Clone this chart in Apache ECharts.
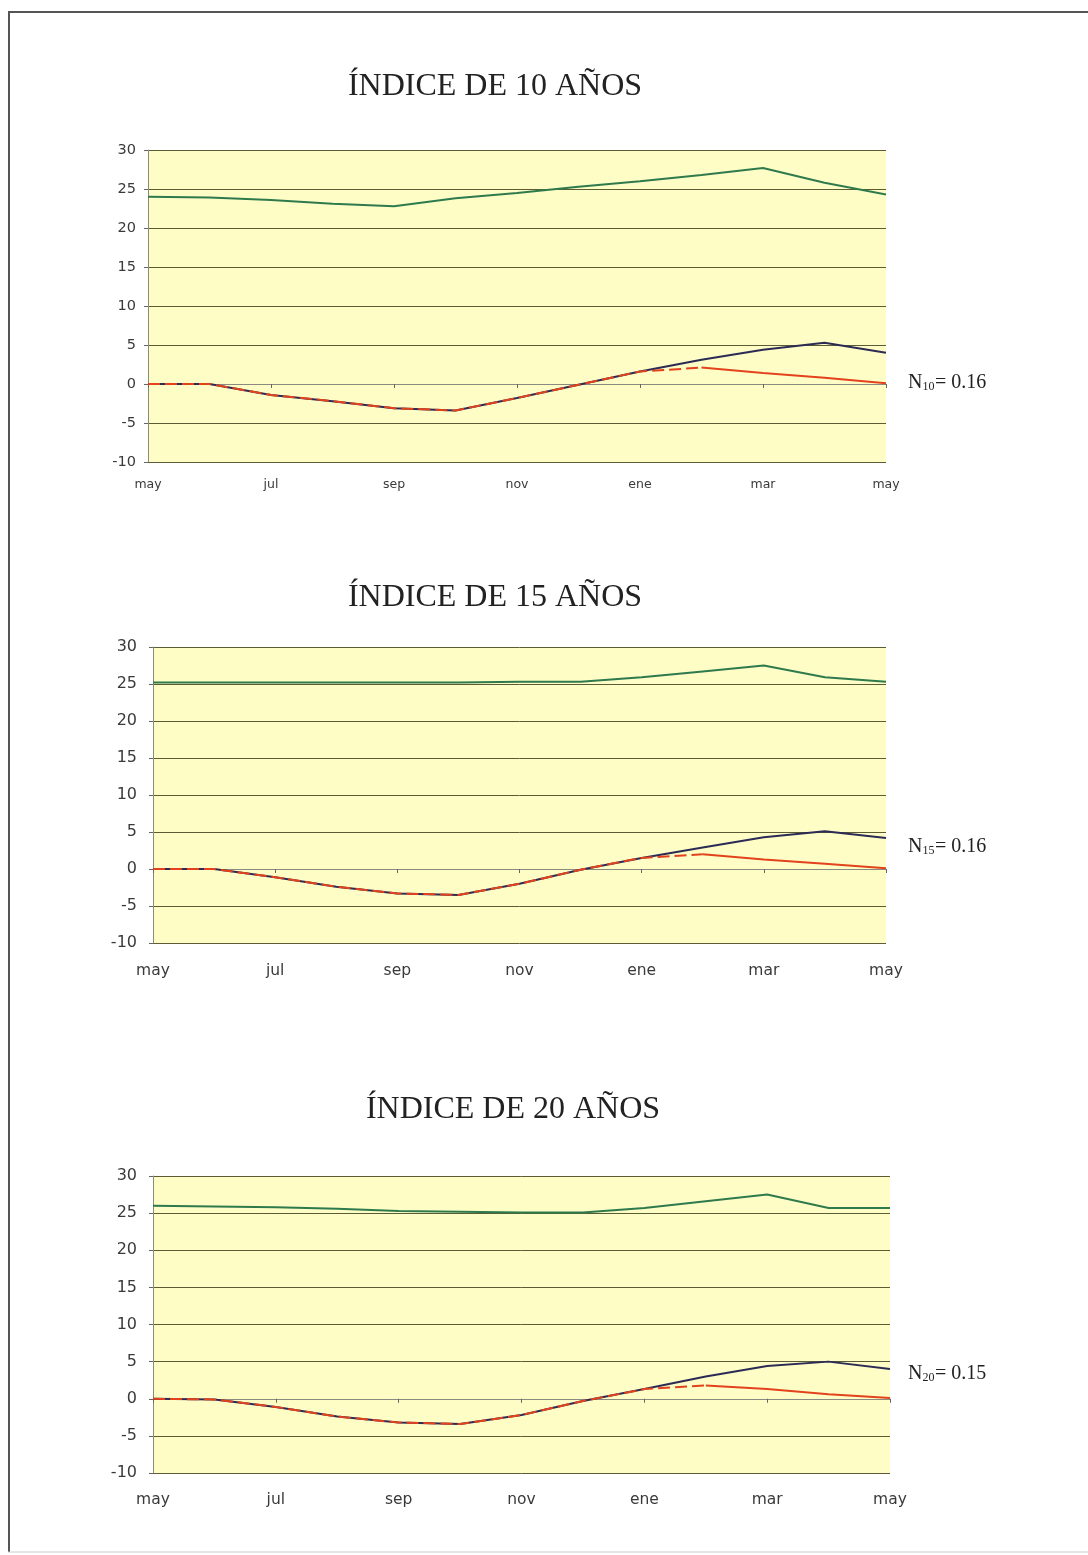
<!DOCTYPE html>
<html>
<head>
<meta charset="utf-8">
<style>
  html, body { margin: 0; padding: 0; background: #ffffff; }
  #chart { width: 1088px; height: 1555px; }
</style>
<script src="https://cdn.jsdelivr.net/npm/echarts@6/dist/echarts.min.js"></script>
</head>
<body>
<div id="chart"></div>
<script>
// Meses del ciclo anual (mayo a mayo)
const meses = ['may', 'jun', 'jul', 'ago', 'sep', 'oct', 'nov', 'dic', 'ene', 'feb', 'mar', 'abr', 'may'];

// Índice de 10 años
const verde10 = [24.0, 23.9, 23.6, 23.1, 22.8, 23.8, 24.5, 25.3, 26.0, 26.8, 27.7, 25.8, 24.3];
const azul10  = [0.0, 0.0, -1.4, -2.2, -3.1, -3.4, -1.8, -0.1, 1.6, 3.1, 4.4, 5.3, 4.0];
const rojo10  = [0.0, 0.0, -1.4, -2.2, -3.1, -3.4, -1.8, -0.1, 1.6, 2.1, 1.4, 0.8, 0.1];

// Índice de 15 años
const verde15 = [25.2, 25.2, 25.2, 25.2, 25.2, 25.2, 25.3, 25.3, 25.9, 26.7, 27.5, 25.9, 25.3];
const azul15  = [0.0, 0.0, -1.1, -2.4, -3.3, -3.5, -2.0, -0.1, 1.5, 2.9, 4.3, 5.1, 4.2];
const rojo15  = [0.0, 0.0, -1.1, -2.4, -3.3, -3.5, -2.0, -0.1, 1.5, 2.0, 1.3, 0.7, 0.1];

// Índice de 20 años
const verde20 = [26.0, 25.9, 25.8, 25.6, 25.3, 25.2, 25.1, 25.1, 25.7, 26.6, 27.5, 25.7, 25.7];
const azul20  = [0.0, -0.1, -1.1, -2.4, -3.2, -3.4, -2.2, -0.3, 1.3, 3.0, 4.4, 5.0, 4.0];
const rojo20  = [0.0, -0.1, -1.1, -2.4, -3.2, -3.4, -2.2, -0.3, 1.3, 1.8, 1.3, 0.6, 0.1];

const titulos = ['ÍNDICE DE 10 AÑOS', 'ÍNDICE DE 15 AÑOS', 'ÍNDICE DE 20 AÑOS'];
const subindices = ['10', '15', '20'];
const valoresN = ['0.16', '0.16', '0.15'];

const paneles = [
  { verde: verde10, azul: azul10, rojo: rojo10 },
  { verde: verde15, azul: azul15, rojo: rojo15 },
  { verde: verde20, azul: azul20, rojo: rojo20 }
];

// Disposición de cada panel
const marcos = [
  { left: 148, right: 202, top: 150, height: 312, fy: 14.5, my: 12, fx: 12.5, mx: 16, titleY: 87, titleX: 495, nY: 383 },
  { left: 153, right: 202, top: 647, height: 296, fy: 16, my: 16, fx: 15.5, mx: 20, titleY: 598, titleX: 495, nY: 847 },
  { left: 153, right: 198, top: 1176, height: 297, fy: 16, my: 16, fx: 15.5, mx: 19, titleY: 1110, titleX: 513, nY: 1374 }
];

const AMARILLO = '#FEFDC6';
const REJILLA = '#4a4a24';
const EJE = '#8a8a80';
const VERDE = '#2f7a4c';
const AZUL = '#2b2b55';
const ROJO = '#e2421c';
const SANS = 'DejaVu Sans, Verdana, sans-serif';
const SERIF = 'Liberation Serif, Times New Roman, serif';

const grid = [], xAxis = [], yAxis = [], series = [], graphic = [];

marcos.forEach((m, i) => {
  grid.push({
    left: m.left, right: m.right, top: m.top, height: m.height,
    show: true, backgroundColor: AMARILLO, borderWidth: 0
  });
  xAxis.push({
    type: 'category', gridIndex: i, data: meses, boundaryGap: false,
    axisLine: { show: true, lineStyle: { color: EJE, width: 1 } },
    axisTick: { show: true, interval: 1, length: 4, lineStyle: { color: '#666' } },
    axisLabel: {
      interval: 1, color: '#3a3a3a', fontFamily: SANS, fontSize: m.fx, margin: m.mx
    },
    splitLine: { show: false }
  });
  yAxis.push({
    type: 'value', gridIndex: i, min: -10, max: 30, interval: 5,
    axisLine: { show: true, lineStyle: { color: EJE, width: 1 } },
    axisTick: { show: true, length: 4, lineStyle: { color: '#666' } },
    axisLabel: { color: '#3a3a3a', fontFamily: SANS, fontSize: m.fy, margin: m.my },
    splitLine: { show: true, lineStyle: { color: REJILLA, width: 1, opacity: 0.9 } }
  });

  const p = paneles[i];
  const base = { type: 'line', xAxisIndex: i, yAxisIndex: i, symbol: 'none', silent: true, animation: false };
  series.push(Object.assign({}, base, {
    name: 'verde' + i, data: p.verde, lineStyle: { color: VERDE, width: 2 }
  }));
  series.push(Object.assign({}, base, {
    name: 'azul' + i, data: p.azul, lineStyle: { color: AZUL, width: 2 }
  }));
  // Tramo discontinuo (may–feb) y tramo continuo (feb–may) de la serie roja
  series.push(Object.assign({}, base, {
    name: 'rojoA' + i, data: p.rojo.map((v, k) => (k <= 9 ? v : null)),
    lineStyle: { color: ROJO, width: 2, type: [12, 5] }
  }));
  series.push(Object.assign({}, base, {
    name: 'rojoB' + i, data: p.rojo.map((v, k) => (k >= 9 ? v : null)),
    lineStyle: { color: ROJO, width: 2 }
  }));

  // Título del panel
  graphic.push({
    type: 'text', x: m.titleX, y: m.titleY, silent: true,
    style: {
      text: titulos[i], font: '32px ' + SERIF, fill: '#222',
      textAlign: 'center', textVerticalAlign: 'middle'
    }
  });

  // Anotación N con subíndice
  graphic.push({
    type: 'group', x: 908, y: m.nY, silent: true,
    children: [
      { type: 'text', x: 0, y: 0, style: { text: 'N', font: '20px ' + SERIF, fill: '#222', textVerticalAlign: 'middle' } },
      { type: 'text', x: 14.5, y: 4, style: { text: subindices[i], font: '12px ' + SERIF, fill: '#222', textVerticalAlign: 'middle' } },
      { type: 'text', x: 27, y: 0, style: { text: '= ' + valoresN[i], font: '20px ' + SERIF, fill: '#222', textVerticalAlign: 'middle' } }
    ]
  });
});

// Marco de la página
graphic.push({ type: 'line', shape: { x1: 8, y1: 12, x2: 1088, y2: 12 }, style: { stroke: '#555', lineWidth: 2 }, silent: true });
graphic.push({ type: 'line', shape: { x1: 9, y1: 12, x2: 9, y2: 1552 }, style: { stroke: '#555', lineWidth: 2 }, silent: true });
graphic.push({ type: 'line', shape: { x1: 8, y1: 1552, x2: 1088, y2: 1552 }, style: { stroke: '#ccc', lineWidth: 1 }, silent: true });

const chart = echarts.init(document.getElementById('chart'), null, { renderer: 'canvas' });
chart.setOption({
  backgroundColor: '#ffffff',
  animation: false,
  grid, xAxis, yAxis, series, graphic
});
</script>
</body>
</html>
